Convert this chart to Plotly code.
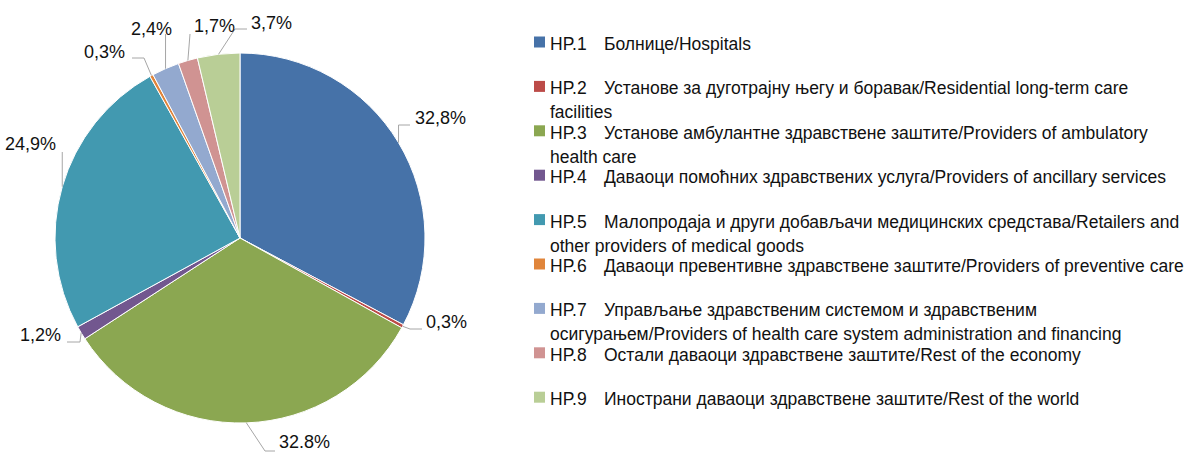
import math
import plotly.graph_objects as go

W, H = 1185, 452

codes = ["HP.1", "HP.2", "HP.3", "HP.4", "HP.5", "HP.6", "HP.7", "HP.8", "HP.9"]
descriptions = [
    ["Болнице/Hospitals"],
    ["Установе за дуготрајну његу и боравак/Residential long-term care", "facilities"],
    ["Установе амбулантне здравствене заштите/Providers of ambulatory", "health care"],
    ["Даваоци помоћних здравствених услуга/Providers of ancillary services"],
    ["Малопродаја и други добављачи медицинских средстава/Retailers and", "other providers of medical goods"],
    ["Даваоци превентивне здравствене заштите/Providers of preventive care"],
    ["Управљање здравственим системом и здравственим", "осигурањем/Providers of health care system administration and financing"],
    ["Остали даваоци здравствене заштите/Rest of the economy"],
    ["Инострани даваоци здравствене заштите/Rest of the world"],
]
values = [32.8, 0.3, 32.8, 1.2, 24.9, 0.3, 2.4, 1.7, 3.7]
value_labels = ["32,8%", "0,3%", "32.8%", "1,2%", "24,9%", "0,3%", "2,4%", "1,7%", "3,7%"]
colors = ["#4672A8", "#BC4B48", "#8BA751", "#72578F", "#4299B0",
          "#E0853B", "#93A9CF", "#D09392", "#B9CE96"]

# layout geometry (pixels)
CX, CY, R = 240, 238, 185


def px(x):
    return x / W


def py(y):
    return 1 - y / H


fig = go.Figure()
fig.add_trace(go.Pie(
    labels=[f"{c} {d[0]}" for c, d in zip(codes, descriptions)],
    values=values,
    sort=False,
    direction="clockwise",
    rotation=0,
    marker=dict(colors=colors, line=dict(color="white", width=1)),
    textinfo="none",
    hoverinfo="label+percent",
    showlegend=False,
    domain=dict(x=[px(CX - R), px(CX + R)], y=[py(CY + R), py(CY - R)]),
))

# data label placement: leader elbows and text anchors (pixels)
label_paths = [
    [(None, 125), (410, 125)],
    [(410, 329), (422, 329)],
    [(265, 451), (275, 451)],
    [(80, 342), (67, 342)],
    [(None, 152)],
    [(144, 58), (132, 58)],
    [(None, 34)],
    [(190, 34)],
    [(235, 29), (247, 29)],
]
label_pos = [
    (413, 118, "left"),
    (424, 322, "left"),
    (277, 442, "left"),
    (63, 335, "right"),
    (58, 144, "right"),
    (127, 52, "right"),
    (174, 29, "right"),
    (192, 26, "left"),
    (249, 23, "left"),
]

LABEL_FONT = dict(family="Liberation Sans", size=18, color="#111111")
LEGEND_FONT = dict(family="Liberation Sans", size=17.5, color="#111111")

total = sum(values)
cum = 0.0
shapes = []
annotations = []
for i, v in enumerate(values):
    mid = (cum + v / 2) / total * 2 * math.pi
    cum += v
    ax = CX + R * math.sin(mid)
    ay = CY - R * math.cos(mid)
    pts = [(ax, ay)]
    for (x, y) in label_paths[i]:
        pts.append((ax if x is None else x, y))
    path = "M " + " L ".join(f"{px(x)},{py(y)}" for x, y in pts)
    shapes.append(dict(type="path", path=path, xref="paper", yref="paper",
                       line=dict(color="#A6A6A6", width=1)))
    tx, ty, anc = label_pos[i]
    annotations.append(dict(
        x=px(tx), y=py(ty), xref="paper", yref="paper", text=value_labels[i],
        showarrow=False, xanchor=anc, yanchor="middle", font=LABEL_FONT,
    ))

# legend (drawn)
LX, LY0, LSTEP, LLINE = 548, 44, 44.4, 24
for i, (c, d) in enumerate(zip(codes, descriptions)):
    y = LY0 + i * LSTEP
    shapes.append(dict(type="rect", xref="paper", yref="paper",
                       x0=px(534), x1=px(545), y0=py(y - 7.5), y1=py(y + 3.5),
                       fillcolor=colors[i], line=dict(width=0)))
    annotations.append(dict(x=px(LX), y=py(y), xref="paper", yref="paper", text=c,
                            showarrow=False, xanchor="left", yanchor="middle",
                            font=LEGEND_FONT))
    annotations.append(dict(x=px(602), y=py(y), xref="paper", yref="paper", text=d[0],
                            showarrow=False, xanchor="left", yanchor="middle",
                            font=LEGEND_FONT))
    if len(d) > 1:
        annotations.append(dict(x=px(LX), y=py(y + LLINE), xref="paper", yref="paper", text=d[1],
                                showarrow=False, xanchor="left", yanchor="middle",
                                font=LEGEND_FONT))

fig.update_layout(
    width=W, height=H,
    margin=dict(l=0, r=0, t=0, b=0),
    paper_bgcolor="white", plot_bgcolor="white",
    shapes=shapes, annotations=annotations,
    showlegend=False,
)
fig.write_html("out.html",
               config={"displayModeBar": False},
               post_script="document.body.style.margin='0';document.body.style.overflow='hidden';")
